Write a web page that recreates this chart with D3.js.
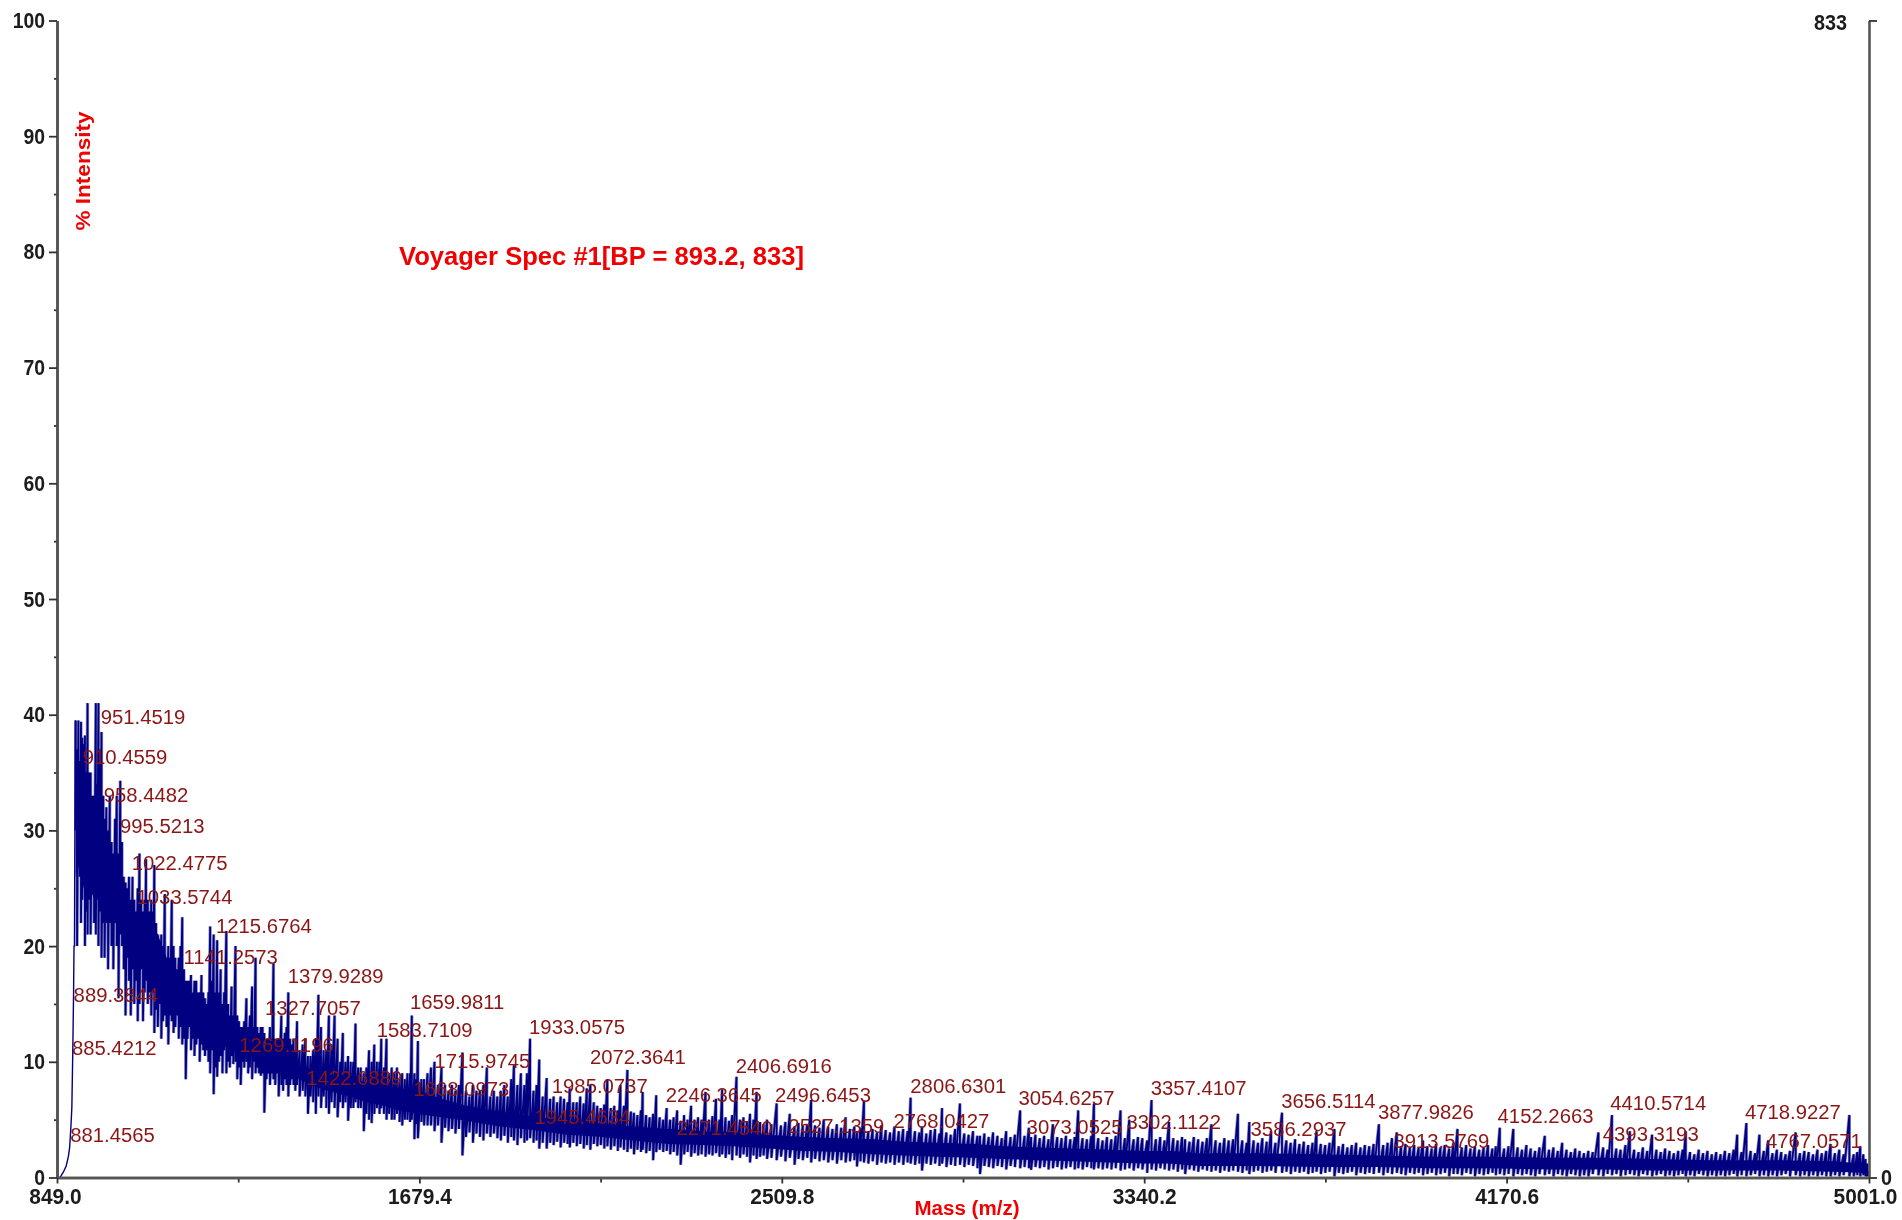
<!DOCTYPE html>
<html>
<head>
<meta charset="utf-8">
<script src="https://cdn.jsdelivr.net/npm/d3@7"></script>
<style>
html, body { margin: 0; background: #fff; }
svg { display: block; }
.tick-label { font-family: "Liberation Sans", sans-serif; font-weight: bold; font-size: 22px; fill: #1a1a1a; }
</style>
</head>
<body>
<div id="my_viz"></div>
<script>
// tick labels
const massTicks = [849.0, 1679.4, 2509.8, 3340.2, 4170.6, 5001.0];
const massMinorTicks = [1264.2, 2094.6, 2925.0, 3755.4, 4585.8];
const intensityTicks = [0, 10, 20, 30, 40, 50, 60, 70, 80, 90, 100];
const intensityMinorTicks = [5, 15, 25, 35, 45, 55, 65, 75, 85, 95];
const countTicks = [0, 833];

// foot of the first peaks
const riseMass = [849, 856, 864, 870, 875, 878, 881, 883, 885, 887, 888, 889, 891];
const riseIntensity = [0, 0, 0.5, 1, 1.8, 2.6, 4.5, 6, 10.5, 16, 20, 20, 39.5];

// solid part of the trace
const coreMass = [892, 900, 910, 924, 935, 947, 960, 975, 1000, 1020, 1040, 1061, 1080, 1100, 1122, 1145, 1180, 1214, 1240, 1268, 1300, 1329, 1365, 1405, 1444, 1480, 1520, 1560, 1597, 1635, 1673, 1730, 1787, 1864, 1940, 2020, 2100, 2170, 2250, 2330, 2400, 2480, 2560, 2640, 2720, 2790, 2870, 2950, 3020, 3095, 3180, 3260, 3340, 3400, 3468, 3600, 3750, 3880, 4000, 4130, 4270, 4400, 4500, 4640, 4800, 4920, 4985, 5001];
const coreLow = [26, 27, 25, 25, 24, 24.5, 23, 22.5, 21, 20, 19.3, 18, 17, 15.5, 14.5, 13.7, 12.6, 11.7, 11.2, 10.7, 10.2, 9.7, 9.2, 8.5, 7.8, 7.4, 7, 6.5, 6.2, 5.8, 5.5, 5.2, 4.9, 4.4, 4.1, 3.7, 3.5, 3.2, 2.9, 2.8, 2.7, 2.5, 2.3, 2.2, 2, 1.9, 1.8, 1.7, 1.6, 1.5, 1.4, 1.3, 1.2, 1.2, 1, 1, 0.9, 0.9, 0.8, 0.8, 0.7, 0.7, 0.6, 0.6, 0.6, 0.5, 0.4, 0.1];
const coreHigh = [34, 35, 33, 31, 29, 27, 26, 25, 24, 23, 22.5, 22.5, 21, 19, 17.6, 16.2, 14.9, 13.5, 12.9, 12.2, 11.7, 11.2, 10.5, 9.7, 9.2, 8.9, 8.6, 8.2, 7.9, 7.7, 7.5, 6.8, 6.2, 5.7, 5.3, 4.9, 4.6, 4.4, 4.2, 4, 3.9, 3.7, 3.5, 3.4, 3.3, 3.1, 3, 2.9, 2.7, 2.6, 2.5, 2.4, 2.3, 2.3, 2.1, 2.1, 2, 1.9, 1.8, 1.8, 1.7, 1.7, 1.6, 1.5, 1.5, 1.4, 1.2, 0.4];

// single spikes
const spikeMass = [
  892,895,898,901,904,907,910,913,916,919,
  922,926,930,934,938,941,944,948,951,955,
  958,962,966,970,974,978,982,986,990,994,
  998,1002,1006,1010,1014,1018,1022,1026,1030,1034,
  1038,1042,1046,1050,1053,1057,1061,1065,1069,1072,
  1076,1080,1084,1088,1092,1096,1100,1104,1108,1112,
  1116,1120,1124,1128,1132,1136,1140,1144,1148,1152,
  1156,1160,1164,1168,1172,1176,1180,1184,1188,1192,
  1196,1200,1204,1208,1212,1216,1220,1224,1228,1232,
  1237,1241,1245,1249,1253,1258,1262,1266,1270,1274,
  1278,1283,1287,1291,1296,1300,1304,1308,1312,1316,
  1320,1324,1329,1333,1337,1341,1345,1349,1353,1357,
  1363,1367,1371,1375,1379,1383,1387,1391,1395,1399,
  1405,1412,1418,1424,1430,1436,1442,1448,1454,1460,
  1466,1472,1478,1485,1492,1498,1504,1510,1516,1522,
  1528,1533,1539,1545,1552,1558,1564,1570,1576,1582,
  1588,1592,1598,1604,1610,1616,1622,1628,1634,1640,
  1646,1652,1658,1662,1668,1672,1676,1684,1690,1698,
  1706,1714,1722,1730,1738,1746,1754,1762,1770,1778,
  1786,1794,1802,1810,1818,1826,1834,1842,1850,1858,
  1866,1874,1882,1890,1896,1904,1912,1920,1926,1933,
  1941,1948,1954,1962,1971,1979,1987,1995,2003,2011,
  2019,2024,2032,2040,2048,2056,2063,2071,2079,2087,
  2095,2103,2110,2118,2126,2134,2140,2148,2156,2164,
  2171,2179,2187,2191,2199,2207,2215,2222,2230,2238,
  2246,2254,2262,2270,2278,2286,2294,2302,2310,2318,
  2326,2335,2343,2351,2359,2367,2373,2381,2389,2396,
  2406,2414,2422,2430,2437,2445,2452,2460,2468,2476,
  2486,2498,2508,2518,2528,2539,2548,2558,2568,2577,
  2586,2596,2606,2616,2626,2636,2646,2656,2666,2676,
  2682,2690,2698,2708,2718,2728,2738,2748,2758,2768,
  2778,2788,2798,2805,2815,2825,2831,2841,2851,2861,
  2871,2877,2887,2897,2907,2918,2928,2938,2948,2958,
  2964,2974,2984,2994,3004,3014,3024,3034,3044,3056,
  3066,3076,3081,3091,3101,3111,3121,3131,3141,3151,
  3161,3171,3181,3189,3199,3209,3219,3225,3235,3245,
  3255,3265,3275,3286,3296,3306,3316,3326,3336,3347,
  3357,3367,3377,3387,3397,3407,3417,3427,3434,3444,
  3454,3464,3474,3484,3494,3504,3514,3524,3534,3544,
  3555,3565,3575,3581,3591,3601,3611,3621,3631,3641,
  3656,3666,3676,3686,3696,3706,3716,3726,3735,3745,
  3755,3765,3776,3786,3796,3806,3816,3826,3836,3846,
  3856,3866,3878,3888,3898,3908,3919,3929,3939,3949,
  3959,3969,3979,3989,3999,4009,4019,4029,4039,4049,
  4058,4068,4078,4088,4098,4108,4118,4128,4138,4146,
  4155,4165,4175,4186,4196,4206,4216,4226,4236,4246,
  4258,4268,4278,4288,4298,4308,4318,4328,4338,4348,
  4358,4368,4381,4392,4402,4412,4422,4432,4443,4453,
  4463,4473,4483,4493,4504,4514,4524,4534,4544,4554,
  4564,4574,4581,4591,4601,4611,4621,4631,4641,4651,
  4661,4671,4681,4691,4699,4709,4720,4730,4740,4750,
  4760,4770,4780,4790,4800,4810,4820,4833,4843,4853,
  4863,4873,4883,4893,4903,4913,4923,4933,4943,4956,
  4966,4974,4981,4988,4993,4997,5000
];
const spikeTop = [
  39.5,37,39.5,36,39.4,38,37.5,38.2,35,41,
  35,35,33,33,41,34,41,37,38.5,33,
  31,32,30,33,29,28,31,33,28,34.3,
  29,26,25.5,25,26,24,26,24,23,25,
  28,24,23,24,27.5,24,23,24,23,27,
  22,21,20,21,20,24.5,19,20,19,24,
  20,19,18,19,20,22.5,18,17,17,17,
  17.5,16,17,17,16,16,17.5,16,15.5,15,
  16,21.7,17,21,16,20.5,16,18,15,16,
  21.3,15,14,16.5,14,20,14,13.5,13,13,
  13.5,15.5,13,14,16.5,13,19,13,12.5,13,
  13,12.5,12,12,13,12,18.5,12,12,12,
  14,12,12.5,13,16,12,11.5,12,11,13.5,
  11,11.5,12,10.5,10.5,11,12,15.8,13,11,
  11,14,11.5,14,12,10,12.5,10,10.5,10,
  10,13.3,9.5,9.5,9,9.5,11,10,11.5,10,
  10,12,9.5,12,9,9.5,9,9.5,8.5,9,
  8.5,9,9,14,9,8.5,11.8,8.5,8.5,9,
  9.5,10,8,9.5,8,7.5,8,7.5,8,10.8,
  7.5,7,8,7.5,7.5,8,9.5,7,7.5,7,
  7.5,8,7,8.5,9.7,8,9,8,9,12,
  7.5,8,10.2,7,8.6,6.8,7,6.5,7,6.8,
  6.5,7.7,6.5,6.5,7,6.4,7.7,8,6.5,6.2,
  6,6.3,8.5,6,6.2,5.8,8,6.2,9.3,5.7,
  5.6,5.4,5.8,7.4,5.4,5.2,5.5,7.1,5.2,5,
  6,5,5.2,5.8,4.9,5.4,5,6.2,5,5.2,
  5,7.4,5,5.3,6.8,5,7.6,5.2,4.9,5.4,
  8.7,5,5.2,4.8,5.5,5,7.4,4.8,4.6,5,
  4.6,6.4,4.5,4.8,5.5,4.4,4.7,4.5,4.6,6.7,
  4.5,4.3,5,4.4,4.2,4.6,4.3,5.2,4.2,4.4,
  4,4.3,6.6,4,4.2,3.9,4.5,4.1,3.9,4.4,
  4,4.2,4,6.9,4,3.9,4.4,3.8,4.1,4.2,
  3.8,6,3.9,3.7,4.2,6.4,3.8,3.7,4,3.6,
  3.6,3.8,3.5,3.9,3.6,3.4,4,3.5,3.7,5.8,
  3.6,4.3,3.5,3.7,3.4,3.6,3.3,4.6,3.5,3.4,
  3.6,3.3,3.5,5.8,3.4,3.3,3.6,6.4,3.4,3.2,
  3.5,3.3,3.6,5.8,3.4,5,3.3,3.5,3.4,3.2,
  6.7,3.3,3.5,3.2,4.8,3.4,3.2,3.5,3.3,3.1,
  3.5,3.3,3.1,3.4,4.6,3.2,3,3.4,3.2,3.3,
  5.5,3.2,3,4.8,3.2,3,3.4,3.1,4,3,
  5.6,3.2,3,3.3,2.9,3.1,2.8,3,4,2.9,
  2.8,3,4.2,2.7,2.9,2.6,2.8,3,2.6,2.8,
  2.7,2.9,4.6,2.8,3,3.4,3.9,2.7,2.9,2.6,
  2.8,2.6,3.2,2.7,2.5,2.9,2.6,2.8,2.5,3,
  4.2,2.6,2.8,2.5,2.7,2.4,2.6,2.8,2.5,2.7,
  4.3,2.5,2.7,4.2,2.6,2.4,2.8,2.5,2.3,2.6,
  3.6,2.4,2.6,2.3,3,2.4,2.2,2.5,2.3,2.1,
  2.3,2.2,3.9,2.6,2.4,5.4,2.5,2.4,2.8,4,
  2.4,2.2,2.6,2.3,3.7,2.4,2.2,2.5,2.3,2.1,
  2.3,2.4,4,2.2,2,2.4,2.1,2.3,2,2.2,
  2,2.3,2.1,2.4,3.7,2.2,4.7,2.3,2.1,3.7,
  2.3,3.2,2.1,2.4,2.2,2,2.3,3.9,2.1,2.3,
  2.2,2,2.4,2.1,2.3,2.9,2.1,2.4,2,5.4,
  2,2.2,2.7,2,1.6,1.2,0.6
];
const spikeBottom = [
  30,20,28,26,22,24,26,20,23,21,
  24,21,26,22,21,24,20,23,19,22,
  19,22,18,22,20,18,22,20,15.5,21,
  20,18,14,19,17,14,18,15,17,13.5,
  15,18,13.5,16,17,15,16,14,16,12.5,
  14.5,13,15,12,13.5,14,13,11.5,14,13.5,
  12.5,13,14,12,13,11.5,12,8.5,12,13,
  11,12,10.5,11.5,12,10,11.5,11,10.5,11,
  10,9,11,7.2,9.5,8.7,10,10.5,9,11,
  9,10,9.5,10.5,9.8,10,8.5,9.5,8,10,
  9.5,10,9,9.5,8.5,10,9,9.5,9,8.8,
  9,5.6,8.5,9,8,9,8.5,8,9,7,
  8,7.5,8.5,8,7,8,8.5,8,7.5,8,
  7,7.5,7,5.5,7,6.5,5.5,7,6,7,
  6,5.5,6.5,6,5.2,6.5,6,6.5,4.9,6,
  6,6.5,6,6,4,5.5,5,4.7,5.5,6,
  5.5,6,5.5,5,5.5,5,5,5.5,4.8,4.5,
  5,5,4.8,5,3.3,4.6,3.4,4.8,4.5,4.5,
  4.5,4,4.5,3,4.3,4,4.2,3.8,4.2,1.9,
  3.5,3.9,3,3.8,3.5,3.2,3.8,3.5,3.8,3.4,
  3.2,3.6,3,3.5,3.2,2.8,3.4,3,3.2,3.4,
  3,3.2,2.5,3,2.5,3,2.8,3.1,2.6,3,
  2.9,2.6,3,2.7,2.9,2.5,2.8,2.4,2.9,2.7,
  2.8,2.5,2.7,2.4,2.7,2.3,2.6,2.4,2.2,2.5,
  2,2.4,2.2,2.4,2.1,2.3,1.5,2.2,2.4,2.2,
  2.3,2,2.2,1.9,1.1,2,2.2,1.8,2.1,1.9,
  2,1.8,2,1.9,2.1,1.8,2,1.7,2,1.5,
  1.9,1.7,2,1.8,1.3,1.9,1.6,1.8,1.9,1.6,
  1.7,1.5,1.8,1.4,1.7,1.1,1.6,1.5,1.7,1.3,
  1.6,1.4,1.5,1.3,1.5,1.2,1.5,1.3,1.4,1.5,
  0.95,1.4,1.3,1.2,1.4,1.1,1.3,1.2,1.3,1.1,
  1.3,1.1,1.3,1.2,1.1,1.2,0.6,1.2,1.1,1.2,
  1,1.2,0.9,1.1,1,1.1,0.9,1.1,1,0.8,
  0.3,1,0.9,0.8,1,0.9,0.7,1,0.9,0.8,
  0.9,0.8,0.66,0.9,0.8,0.9,0.7,0.8,0.9,0.7,
  0.8,0.9,0.7,0.8,0.7,0.9,0.8,0.7,0.8,0.7,
  0.8,0.7,0.8,0.6,0.7,0.8,0.6,0.8,0.7,0.4,
  0.7,0.6,0.8,0.7,0.6,0.7,0.5,0.7,0.3,0.7,
  0.6,0.5,0.7,0.6,0.5,0.6,0.4,0.6,0.5,0.6,
  0.5,0.4,0.6,0.3,0.5,0.6,0.4,0.5,0.6,0.4,
  0.4,0.5,0.3,0.5,0.4,0.5,0.3,0.4,0.5,0.3,
  0.4,0.5,0.1,0.4,0.3,0.4,0.5,0.2,0.4,0.3,
  0.4,0.3,0.4,0.2,0.4,0.3,0.4,0.3,0.2,0.4,
  0.3,0.4,0.2,0.3,0.4,0.2,0.3,0.4,0.1,0.3,
  0.3,0.2,0.4,0.3,0.1,0.3,0.2,0.3,0.4,0.2,
  0.3,0.2,0.3,0.1,0.3,0.2,0.3,0.2,0.1,0.3,
  0.2,0.3,0.1,0.3,0.2,0.1,0.3,0.2,0.1,0.2,
  0.1,0.3,0.2,0.1,0.3,0.2,0.3,0.1,0.2,0.3,
  0.2,0.1,0.3,0.2,0.1,0.2,0.3,0.1,0.2,0.1,
  0.2,0.3,0.1,0.2,0.1,0.3,0.2,0.1,0.2,0.1,
  0.2,0.1,0.2,0.3,0.1,0.2,0.1,0.2,0.3,0.1,
  0.2,0.1,0.2,0.1,0.2,0.3,0.1,0.2,0.1,0.2,
  0.1,0.2,0.1,0.2,0.1,0.1,0.2,0.1,0.2,0.1,
  0.1,0.2,0.1,0.2,0.1,0.1,0.2
];

// peak annotations and the intensity level each one sits at
const peakLabels = ["951.4519", "910.4559", "958.4482", "995.5213", "1022.4775", "1033.5744", "1215.6764", "1141.2573", "1379.9289", "889.3844", "1327.7057", "1659.9811", "1583.7109", "1933.0575", "885.4212", "1269.1196", "1715.9745", "2072.3641", "2406.6916", "1422.6889", "1668.0973", "1985.0737", "2246.3645", "2496.6453", "2806.6301", "3054.6257", "3357.4107", "3656.5114", "3877.9826", "4152.2663", "4410.5714", "4718.9227", "1945.4634", "2271.4540", "2527.1359", "2768.0427", "3073.0525", "3302.1122", "3586.2937", "3913.5769", "4393.3193", "4767.0571", "881.4565"];
const peakLevels = [39.8, 36.4, 33.05, 30.4, 27.2, 24.3, 21.8, 19.1, 17.4, 15.8, 14.7, 15.2, 12.8, 13, 11.2, 11.5, 10.1, 10.4, 9.65, 8.6, 7.66, 7.9, 7.2, 7.2, 7.9, 6.9, 7.8, 6.6, 5.7, 5.35, 6.5, 5.7, 5.25, 4.3, 4.5, 4.9, 4.4, 4.8, 4.2, 3.15, 3.8, 3.15, 3.7];

const width = 1902;
const height = 1220;
const margin = { top: 20.5, bottom: 42.5, left: 57, right: 33 };

const svg = d3.select('#my_viz')
    .append('svg')
    .attr('width', width)
    .attr('height', height)
    .attr('viewBox', [0, 0, width, height]);

svg.append('filter').attr('id', 'soft')
    .attr('filterUnits', 'userSpaceOnUse')
    .attr('x', 0).attr('y', 0)
    .attr('width', width).attr('height', height)
    .append('feGaussianBlur').attr('stdDeviation', 0.55);

const chart = svg.append('g').attr('filter', 'url(#soft)');

const x = d3.scaleLinear()
    .domain([849, 5001])
    .range([margin.left, width - margin.right]);

const y = d3.scaleLinear()
    .domain([0, 100])
    .range([height - margin.bottom, margin.top]);

const yCount = d3.scaleLinear()
    .domain([0, 833])
    .range([height - margin.bottom, margin.top]);

const navy = '#000080';
const axisColor = '#555';

// trace
const core = d3.area()
    .x((d, i) => x(coreMass[i]))
    .y0((d, i) => y(coreLow[i]))
    .y1((d, i) => y(coreHigh[i]));

const trace = d3.line()
    .x(d => x(d[0]))
    .y(d => y(d[1]));

const tracePath = trace(spikeMass.flatMap((m, i) => [[m, spikeTop[i]], [m, spikeBottom[i]]]));

// pale halo first, the upscaled screenshot smears every spike
chart.append('path')
    .attr('d', tracePath)
    .attr('fill', 'none')
    .attr('stroke', '#9090cc')
    .attr('stroke-width', 3.2)
    .attr('stroke-linejoin', 'bevel');

chart.append('path')
    .attr('d', core(coreMass))
    .attr('fill', navy);

chart.append('path')
    .attr('d', tracePath)
    .attr('fill', 'none')
    .attr('stroke', navy)
    .attr('stroke-width', 1.8)
    .attr('stroke-linejoin', 'bevel');

const rise = d3.line()
    .x((d, i) => x(riseMass[i]))
    .y((d, i) => y(riseIntensity[i]));

chart.append('path')
    .attr('d', rise(riseMass))
    .attr('fill', 'none')
    .attr('stroke', navy)
    .attr('stroke-width', 1.4);

// axes
function squeeze(sel, k) {
    sel.each(function () {
        d3.select(this)
            .attr('textLength', this.getComputedTextLength() * k)
            .attr('lengthAdjust', 'spacingAndGlyphs');
    });
}

function styleAxis(g, labelled, k) {
    g.select('.domain').attr('stroke', axisColor).attr('stroke-width', 2.6);
    g.selectAll('.tick line').attr('stroke', '#333').attr('stroke-width', 1.8);
    g.selectAll('.tick text').attr('class', 'tick-label').call(squeeze, k);
    if (!labelled) g.selectAll('.tick text').remove();
}

chart.append('g')
    .attr('transform', `translate(${margin.left},0)`)
    .call(d3.axisLeft(y).tickValues(intensityMinorTicks).tickSize(3).tickSizeOuter(0))
    .call(styleAxis, false, 1);

chart.append('g')
    .attr('transform', `translate(${margin.left},0)`)
    .call(d3.axisLeft(y).tickValues(intensityTicks).tickSize(8).tickPadding(4).tickSizeOuter(0))
    .call(styleAxis, true, 0.88);

chart.append('g')
    .attr('transform', `translate(0,${height - margin.bottom})`)
    .call(d3.axisBottom(x).tickValues(massMinorTicks).tickSize(5).tickSizeOuter(0))
    .call(styleAxis, false, 1);

const bottomAxis = chart.append('g')
    .attr('transform', `translate(0,${height - margin.bottom})`)
    .call(d3.axisBottom(x).tickValues(massTicks).tickFormat(d3.format('.1f')).tickSize(6).tickPadding(5).tickSizeOuter(0))
    .call(styleAxis, true, 0.95);

bottomAxis.selectAll('.tick text')
    .filter(d => d === 849.0)
    .attr('dx', -2);

bottomAxis.selectAll('.tick text')
    .filter(d => d === 5001.0)
    .attr('dx', -4);

const rightAxis = chart.append('g')
    .attr('transform', `translate(${width - margin.right},0)`)
    .call(d3.axisRight(yCount).tickValues(countTicks).tickSize(8).tickPadding(4).tickSizeOuter(0))
    .call(styleAxis, true, 0.9);

rightAxis.selectAll('.tick text')
    .filter(d => d === 833)
    .attr('x', -22)
    .attr('dy', '0.42em')
    .attr('text-anchor', 'end');

// peak labels
chart.append('g')
    .attr('font-family', '"Liberation Sans", sans-serif')
    .attr('font-size', 20.3)
    .attr('fill', '#8a1414')
    .selectAll('text')
    .data(peakLabels)
    .join('text')
    .attr('x', d => x(+d) - 1)
    .attr('y', (d, i) => y(peakLevels[i]))
    .attr('dy', '0.36em')
    .text(d => d);

// titles
chart.append('text')
    .attr('x', 399)
    .attr('y', 256)
    .attr('dy', '0.36em')
    .attr('font-family', '"Liberation Sans", sans-serif')
    .attr('font-weight', 'bold')
    .attr('font-size', 25)
    .attr('textLength', 405)
    .attr('lengthAdjust', 'spacingAndGlyphs')
    .attr('fill', '#f00000')
    .text('Voyager Spec #1[BP = 893.2, 833]');

chart.append('text')
    .attr('x', 967)
    .attr('y', 1208)
    .attr('dy', '0.36em')
    .attr('text-anchor', 'middle')
    .attr('font-family', '"Liberation Sans", sans-serif')
    .attr('font-weight', 'bold')
    .attr('font-size', 20)
    .attr('textLength', 105)
    .attr('lengthAdjust', 'spacingAndGlyphs')
    .attr('fill', '#f00000')
    .text('Mass (m/z)');

chart.append('text')
    .attr('transform', 'translate(83,171) rotate(-90)')
    .attr('dy', '0.36em')
    .attr('text-anchor', 'middle')
    .attr('font-family', '"Liberation Sans", sans-serif')
    .attr('font-weight', 'bold')
    .attr('font-size', 20)
    .attr('textLength', 119)
    .attr('lengthAdjust', 'spacingAndGlyphs')
    .attr('fill', '#f00000')
    .text('% Intensity');
</script>
</body>
</html>
